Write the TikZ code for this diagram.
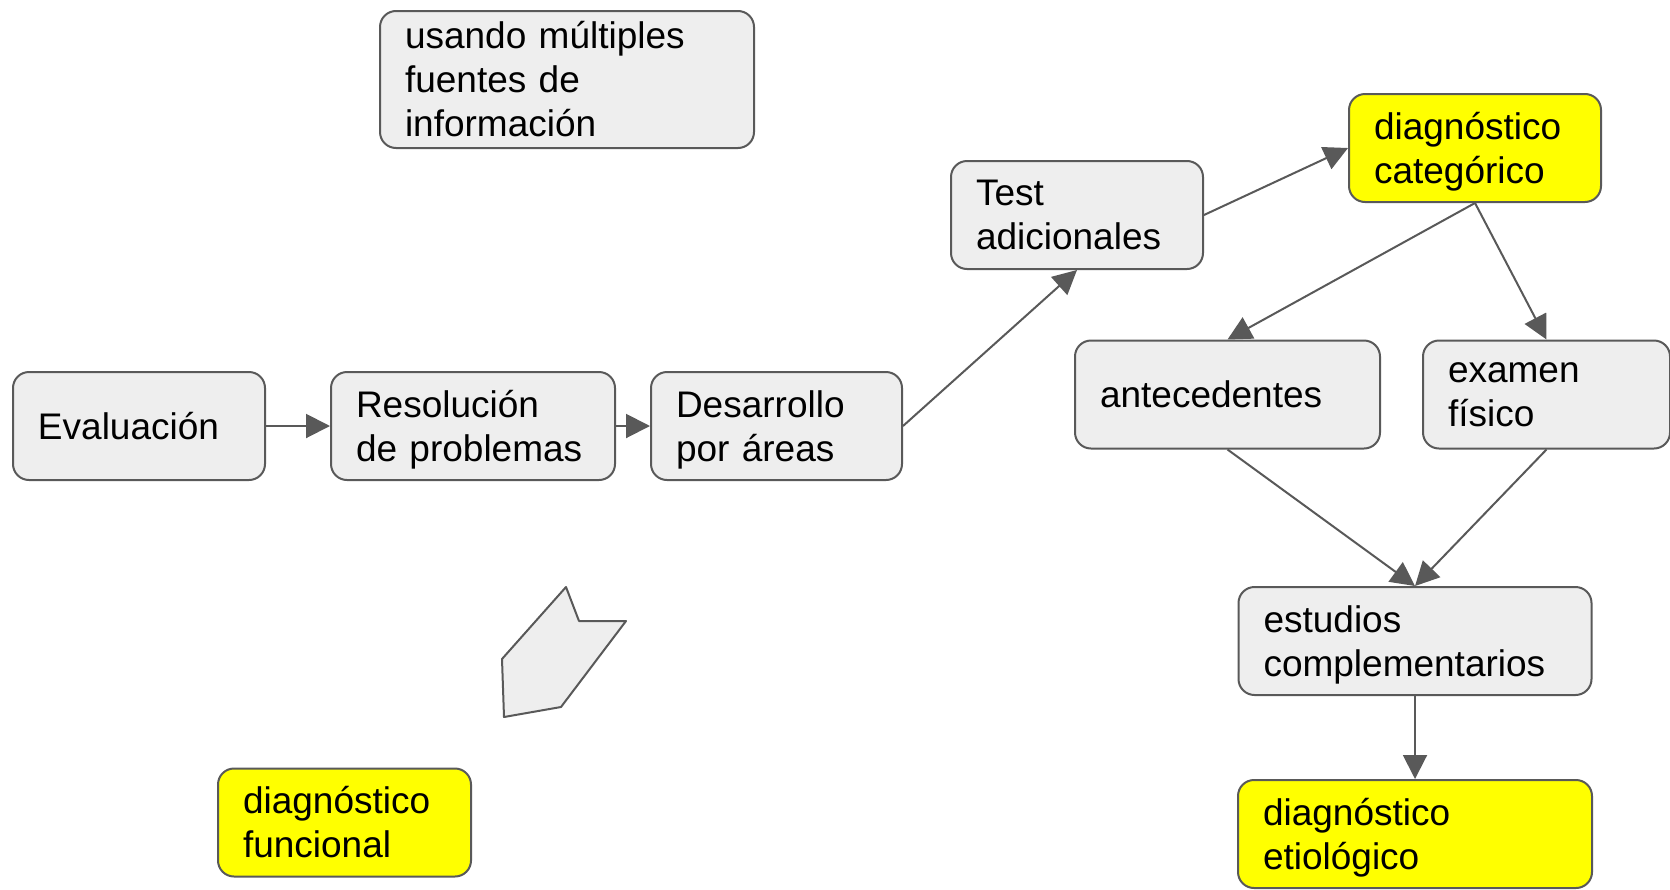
\documentclass[tikz,border=0pt]{standalone}
\usepackage{fontspec}
\setmainfont{Liberation Sans}
\usepackage{xcolor}
\usepackage{tikz}
\usetikzlibrary{arrows.meta}

\definecolor{borde}{HTML}{595959}
\definecolor{relleno}{HTML}{EEEEEE}
\definecolor{amarillo}{HTML}{FFFF00}

% ultima linea sin profundidad
\newcommand{\sinbajo}[1]{\raisebox{0pt}[\height][0pt]{#1}}

\tikzset{
	caja/.style={draw=borde, fill=relleno, line width=1pt, rounded corners=8pt,
		inner xsep=12.5pt, inner ysep=0pt, align=left, minimum height=54pt,
		font=\fontsize{18.5}{22}\selectfont},
	amarilla/.style={caja, fill=amarillo},
	flecha/.style={draw=borde, line width=1pt, -{Triangle[length=12pt,width=12pt]}}
}

\begin{document}
\begin{tikzpicture}[x=0.5pt, y=-0.5pt]
			\useasboundingbox (0,0) rectangle (1670,889);
			% cajas
			\node[caja, text width=162pt, minimum height=68.5pt] (fuentes) at (567,79.5) {usando múltiples\\fuentes de\\información};
			\node[caja, text width=101pt] (eval) at (139,426) {Evaluación};
			\node[caja, text width=117pt] (resol) at (473,426) {Resolución\\\sinbajo{de problemas}};
			\node[caja, text width=100.5pt] (desarr) at (776.5,426) {Desarrollo\\\sinbajo{por áreas}};
			\node[caja, text width=101pt] (test) at (1077,215) {Test\\adicionales};
			\node[amarilla, text width=101pt] (cat) at (1475,148) {diagnóstico\\\sinbajo{categórico}};
			\node[caja, text width=127.5pt] (ante) at (1227.5,394.5) {antecedentes};
			\node[caja, text width=98.5pt] (examen) at (1546.5,394.5) {examen\\físico};
			\node[caja, text width=151.5pt] (estud) at (1415,641) {estudios\\\sinbajo{complementarios}};
			\node[amarilla, text width=152pt] (etiol) at (1415,834) {diagnóstico\\\sinbajo{etiológico}};
			\node[amarilla, text width=101.5pt] (func) at (344.5,822.5) {diagnóstico\\funcional};
			% flecha suelta
			\draw[draw=borde, fill=relleno, line width=1pt, line join=round]
				(566,587) -- (579,621) -- (626,621) -- (561,707) -- (504,717) -- (502,659) -- cycle;
			% flechas
			\draw[flecha] (eval.east) -- (resol.west);
			\draw[flecha] (resol.east) -- (desarr.west);
			\draw[flecha] (desarr.east) -- (test.south);
			\draw[flecha] (test.east) -- (cat.west);
			\draw[flecha] (cat.south) -- (ante.north);
			\draw[flecha] (cat.south) -- (examen.north);
			\draw[flecha] (ante.south) -- (estud.north);
			\draw[flecha] (examen.south) -- (estud.north);
			\draw[flecha] (estud.south) -- (etiol.north);
		\end{tikzpicture}
\end{document}
